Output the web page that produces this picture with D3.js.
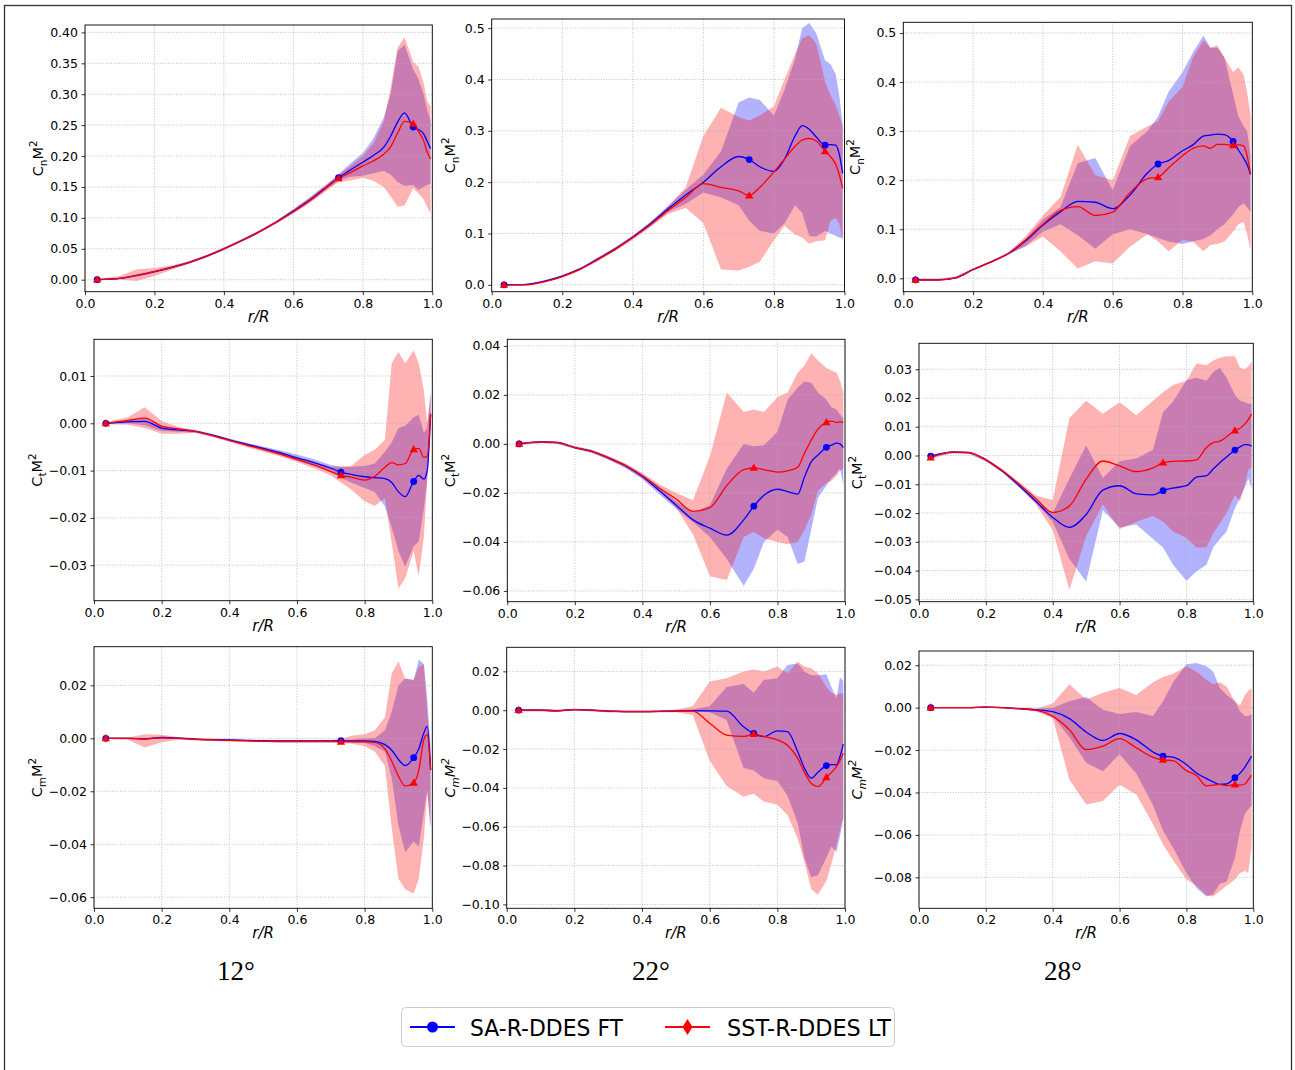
<!DOCTYPE html>
<html>
<head>
<meta charset="utf-8">
<script src="https://cdn.jsdelivr.net/npm/d3@7"></script>
<style>
  body { margin: 0; background: #fff; }
  text { font-family: "DejaVu Sans", sans-serif; }
</style>
</head>
<body>
<div id="chart"></div>
<script>

// radial stations r/R shared by every panel
const rR = [0.035, 0.1, 0.15, 0.2, 0.25, 0.3, 0.35, 0.4, 0.45, 0.5, 0.55, 0.6, 0.65, 0.7, 0.73, 0.76, 0.8, 0.83, 0.86, 0.88, 0.9, 0.92, 0.945, 0.96, 0.975, 0.985, 0.995];
const markerIdx = [0, 14, 22];

const angles = ["12°", "22°", "28°"];
const seriesNames = ["SA-R-DDES FT", "SST-R-DDES LT"];
const xTicks = [0, 0.2, 0.4, 0.6, 0.8, 1.0];

// ---- Cn M^2, 12 deg
const cn12_saMean  = [0, 0.002, 0.007, 0.013, 0.02, 0.028, 0.038, 0.05, 0.063, 0.077, 0.093, 0.111, 0.13, 0.152, 0.165, 0.176, 0.19, 0.201, 0.214, 0.232, 0.255, 0.27, 0.247, 0.243, 0.236, 0.224, 0.212];
const cn12_saLo    = [-0.001, 0.001, 0.005, 0.011, 0.018, 0.026, 0.036, 0.048, 0.061, 0.075, 0.091, 0.108, 0.127, 0.148, 0.16, 0.166, 0.168, 0.172, 0.176, 0.17, 0.158, 0.152, 0.153, 0.145, 0.15, 0.153, 0.155];
const cn12_saHi    = [0.001, 0.003, 0.009, 0.015, 0.022, 0.03, 0.04, 0.052, 0.065, 0.079, 0.095, 0.114, 0.134, 0.156, 0.17, 0.186, 0.205, 0.228, 0.262, 0.3, 0.37, 0.38, 0.34, 0.325, 0.3, 0.275, 0.258];
const cn12_sstMean = [0, 0.002, 0.007, 0.013, 0.02, 0.028, 0.038, 0.05, 0.063, 0.077, 0.093, 0.11, 0.129, 0.151, 0.164, 0.172, 0.184, 0.192, 0.203, 0.215, 0.237, 0.256, 0.252, 0.24, 0.225, 0.207, 0.195];
const cn12_sstLo   = [-0.001, 0.0, -0.002, 0.006, 0.016, 0.026, 0.036, 0.048, 0.061, 0.075, 0.09, 0.107, 0.125, 0.146, 0.158, 0.16, 0.165, 0.16, 0.15, 0.135, 0.118, 0.12, 0.148, 0.14, 0.13, 0.118, 0.107];
const cn12_sstHi   = [0.001, 0.006, 0.017, 0.019, 0.023, 0.03, 0.04, 0.052, 0.065, 0.079, 0.095, 0.114, 0.134, 0.156, 0.17, 0.182, 0.2, 0.22, 0.255, 0.31, 0.375, 0.392, 0.352, 0.345, 0.318, 0.29, 0.28];

// ---- Cn M^2, 22 deg
const cn22_saMean  = [0, 0.001, 0.007, 0.017, 0.031, 0.05, 0.07, 0.093, 0.119, 0.148, 0.175, 0.2, 0.23, 0.25, 0.244, 0.23, 0.221, 0.245, 0.29, 0.31, 0.303, 0.288, 0.272, 0.273, 0.272, 0.255, 0.217];
const cn22_saLo    = [-0.001, 0.0, 0.005, 0.015, 0.029, 0.047, 0.067, 0.09, 0.115, 0.142, 0.158, 0.18, 0.17, 0.155, 0.125, 0.105, 0.1, 0.12, 0.155, 0.14, 0.095, 0.094, 0.105, 0.1, 0.095, 0.092, 0.09];
const cn22_saHi    = [0.001, 0.002, 0.009, 0.019, 0.033, 0.053, 0.073, 0.096, 0.123, 0.154, 0.185, 0.215, 0.26, 0.355, 0.365, 0.36, 0.33, 0.38, 0.44, 0.5, 0.51, 0.49, 0.437, 0.43, 0.41, 0.37, 0.31];
const cn22_sstMean = [0, 0.0, 0.006, 0.016, 0.03, 0.049, 0.069, 0.092, 0.117, 0.145, 0.17, 0.197, 0.19, 0.183, 0.174, 0.19, 0.22, 0.245, 0.27, 0.282, 0.285, 0.28, 0.26, 0.25, 0.235, 0.215, 0.188];
const cn22_sstLo   = [-0.001, -0.001, 0.004, 0.014, 0.028, 0.046, 0.066, 0.088, 0.112, 0.138, 0.15, 0.12, 0.03, 0.028, 0.035, 0.045, 0.087, 0.115, 0.098, 0.092, 0.08, 0.085, 0.087, 0.125, 0.13, 0.12, 0.085];
const cn22_sstHi   = [0.001, 0.001, 0.008, 0.018, 0.032, 0.052, 0.072, 0.095, 0.121, 0.152, 0.19, 0.29, 0.345, 0.327, 0.32, 0.33, 0.348, 0.4, 0.45, 0.48, 0.486, 0.47, 0.396, 0.37, 0.35, 0.33, 0.31];

// ---- Cn M^2, 28 deg
const cn28_saMean  = [-0.003, -0.003, 0.001, 0.018, 0.033, 0.05, 0.076, 0.108, 0.135, 0.157, 0.155, 0.142, 0.17, 0.215, 0.233, 0.24, 0.26, 0.272, 0.29, 0.292, 0.294, 0.293, 0.279, 0.262, 0.245, 0.232, 0.212];
const cn28_saLo    = [-0.005, -0.005, -0.001, 0.016, 0.031, 0.048, 0.066, 0.095, 0.11, 0.088, 0.06, 0.09, 0.1, 0.09, 0.082, 0.075, 0.07, 0.075, 0.08, 0.088, 0.1, 0.11, 0.13, 0.145, 0.153, 0.145, 0.135];
const cn28_saHi    = [-0.001, -0.001, 0.003, 0.02, 0.035, 0.052, 0.08, 0.12, 0.145, 0.235, 0.245, 0.18, 0.27, 0.3, 0.33, 0.38, 0.42, 0.46, 0.495, 0.47, 0.47, 0.45, 0.375, 0.33, 0.31, 0.3, 0.25];
const cn28_sstMean = [-0.003, -0.003, 0.001, 0.018, 0.033, 0.05, 0.078, 0.11, 0.138, 0.146, 0.128, 0.135, 0.175, 0.203, 0.206, 0.225, 0.25, 0.265, 0.27, 0.265, 0.273, 0.273, 0.271, 0.272, 0.27, 0.25, 0.212];
const cn28_sstLo   = [-0.005, -0.005, -0.001, 0.016, 0.031, 0.048, 0.065, 0.085, 0.055, 0.02, 0.035, 0.03, 0.065, 0.09, 0.075, 0.055, 0.078, 0.075, 0.055, 0.068, 0.07, 0.075, 0.095, 0.11, 0.115, 0.09, 0.058];
const cn28_sstHi   = [-0.001, -0.001, 0.003, 0.02, 0.035, 0.052, 0.085, 0.128, 0.165, 0.272, 0.21, 0.2, 0.29, 0.31, 0.32, 0.36, 0.39, 0.45, 0.485, 0.47, 0.475, 0.45, 0.42, 0.43, 0.415, 0.38, 0.33];

// ---- Ct M^2, 12 deg
const ct12_saMean  = [0, 0.0003, 0.0004, -0.001, -0.0014, -0.0017, -0.0025, -0.0035, -0.0044, -0.0053, -0.0062, -0.0073, -0.0083, -0.0095, -0.0103, -0.0108, -0.0113, -0.0115, -0.0117, -0.0125, -0.0145, -0.0155, -0.0123, -0.011, -0.0118, -0.01, 0.002];
const ct12_saLo    = [-0.0002, 0.0, -0.0004, -0.0016, -0.0018, -0.002, -0.0028, -0.0038, -0.0047, -0.0057, -0.0067, -0.0079, -0.009, -0.0103, -0.0115, -0.0125, -0.0137, -0.0145, -0.0176, -0.022, -0.027, -0.0303, -0.026, -0.025, -0.018, -0.012, 0.001];
const ct12_saHi    = [0.0002, 0.0006, 0.001, -0.0005, -0.001, -0.0014, -0.0022, -0.0032, -0.0041, -0.0049, -0.0057, -0.0066, -0.0076, -0.0088, -0.0092, -0.0092, -0.009, -0.0085, -0.006, -0.004, -0.001, -0.0005, 0.0013, 0.0018, -0.002, -0.001, 0.0065];
const ct12_sstMean = [0, 0.0006, 0.0011, -0.0006, -0.0012, -0.0017, -0.0026, -0.0036, -0.0046, -0.0055, -0.0065, -0.0076, -0.0088, -0.0102, -0.011, -0.0114, -0.012, -0.0112, -0.0093, -0.0083, -0.0088, -0.0085, -0.0055, -0.0053, -0.0072, -0.007, 0.002];
const ct12_sstLo   = [-0.0002, -0.0003, -0.001, -0.0022, -0.0022, -0.002, -0.0029, -0.0039, -0.005, -0.006, -0.007, -0.0082, -0.0095, -0.011, -0.0125, -0.014, -0.0165, -0.0175, -0.0158, -0.0253, -0.0349, -0.0327, -0.027, -0.0324, -0.024, -0.012, 0.001];
const ct12_sstHi   = [0.0002, 0.0013, 0.0034, 0.0005, -0.0008, -0.0015, -0.0024, -0.0034, -0.0043, -0.0051, -0.006, -0.007, -0.0081, -0.0092, -0.0092, -0.009, -0.0067, -0.0056, -0.0035, 0.0127, 0.0151, 0.0127, 0.0154, 0.0127, 0.007, 0.0, 0.0063];

// ---- Ct M^2, 22 deg
const ct22_saMean  = [0, 0.0008, 0.0005, -0.0015, -0.003, -0.0058, -0.009, -0.0133, -0.019, -0.025, -0.031, -0.0344, -0.0372, -0.031, -0.0254, -0.021, -0.0185, -0.0195, -0.0205, -0.0135, -0.0073, -0.0045, -0.0014, -0.0005, 0.0003, 0.0, -0.0015];
const ct22_saLo    = [-0.0004, 0.0004, 0.0, -0.002, -0.0036, -0.0065, -0.0098, -0.0143, -0.0205, -0.0265, -0.032, -0.038, -0.047, -0.058, -0.051, -0.04, -0.035, -0.038, -0.049, -0.048, -0.035, -0.022, -0.017, -0.014, -0.012, -0.01, -0.017];
const ct22_saHi    = [0.0004, 0.0012, 0.001, -0.001, -0.0024, -0.005, -0.0082, -0.0123, -0.0175, -0.0235, -0.028, -0.025, -0.01, 0.0, -0.001, -0.0005, 0.005, 0.018, 0.023, 0.0255, 0.025, 0.021, 0.018, 0.015, 0.014, 0.012, 0.0105];
const ct22_sstMean = [0, 0.0008, 0.0005, -0.0015, -0.003, -0.0057, -0.0088, -0.013, -0.018, -0.0225, -0.0275, -0.026, -0.017, -0.0105, -0.0098, -0.0105, -0.0115, -0.011, -0.0095, -0.0038, 0.0015, 0.006, 0.0088, 0.0093, 0.0088, 0.009, 0.0088];
const ct22_sstLo   = [-0.0004, 0.0004, 0.0, -0.002, -0.0036, -0.0064, -0.0096, -0.014, -0.0195, -0.026, -0.037, -0.054, -0.0555, -0.038, -0.036, -0.0385, -0.04, -0.041, -0.04, -0.035, -0.029, -0.019, -0.016, -0.015, -0.013, -0.011, -0.01];
const ct22_sstHi   = [0.0004, 0.0012, 0.001, -0.001, -0.0024, -0.005, -0.008, -0.012, -0.0165, -0.02, -0.023, -0.005, 0.021, 0.013, 0.014, 0.013, 0.019, 0.021, 0.029, 0.032, 0.037, 0.034, 0.031, 0.03, 0.029, 0.026, 0.021];

// ---- Ct M^2, 28 deg
const ct28_saMean  = [-0.0002, 0.0012, 0.001, -0.0015, -0.0055, -0.0105, -0.016, -0.0215, -0.025, -0.0205, -0.012, -0.0105, -0.0133, -0.0137, -0.0122, -0.0113, -0.0105, -0.0075, -0.007, -0.0047, -0.0025, -0.0005, 0.0019, 0.003, 0.0038, 0.0038, 0.0032];
const ct28_saLo    = [-0.0006, 0.0008, 0.0006, -0.002, -0.006, -0.0112, -0.0165, -0.023, -0.036, -0.0438, -0.019, -0.025, -0.024, -0.029, -0.032, -0.038, -0.0435, -0.0403, -0.038, -0.032, -0.029, -0.0264, -0.0183, -0.0148, -0.011, -0.008, -0.0114];
const ct28_saHi    = [0.0002, 0.0016, 0.0014, -0.001, -0.005, -0.0098, -0.0155, -0.02, -0.008, 0.0035, -0.0078, -0.002, -0.001, 0.002, 0.015, 0.0188, 0.0262, 0.027, 0.026, 0.029, 0.0305, 0.027, 0.021, 0.019, 0.0185, 0.018, 0.018];
const ct28_sstMean = [-0.0007, 0.0012, 0.001, -0.0015, -0.0053, -0.01, -0.015, -0.0198, -0.0175, -0.0082, -0.0019, -0.0036, -0.0056, -0.0043, -0.0025, -0.002, -0.0019, -0.0015, 0.0028, 0.0045, 0.005, 0.0065, 0.0087, 0.0095, 0.011, 0.0125, 0.0144];
const ct28_sstLo   = [-0.0011, 0.0008, 0.0006, -0.002, -0.0058, -0.0107, -0.017, -0.026, -0.0467, -0.028, -0.017, -0.0255, -0.023, -0.021, -0.023, -0.0264, -0.0287, -0.032, -0.032, -0.027, -0.0235, -0.02, -0.0137, -0.016, -0.01, -0.005, -0.004];
const ct28_sstHi   = [-0.0003, 0.0016, 0.0014, -0.001, -0.0048, -0.0093, -0.014, -0.0155, 0.013, 0.019, 0.0145, 0.0185, 0.014, 0.019, 0.022, 0.0245, 0.026, 0.032, 0.0315, 0.033, 0.034, 0.0345, 0.0345, 0.0305, 0.03, 0.031, 0.0327];

// ---- Cm M^2, 12 deg
const cm12_saMean  = [0, 0, -0.0002, 0.0003, 0.0001, -0.0003, -0.0005, -0.0006, -0.0008, -0.0009, -0.001, -0.001, -0.001, -0.001, -0.0009, -0.001, -0.001, -0.0012, -0.0024, -0.0045, -0.008, -0.0103, -0.0073, -0.004, 0.002, 0.0045, -0.012];
const cm12_saLo    = [-0.0003, -0.0003, -0.0005, 0.0, -0.0002, -0.0006, -0.0008, -0.0009, -0.0011, -0.0012, -0.0013, -0.0013, -0.0013, -0.0014, -0.0013, -0.0015, -0.0017, -0.003, -0.005, -0.015, -0.033, -0.043, -0.039, -0.041, -0.028, -0.02, -0.034];
const cm12_saHi    = [0.0003, 0.0003, 0.0001, 0.0006, 0.0004, 0.0, -0.0002, -0.0003, -0.0005, -0.0006, -0.0007, -0.0007, -0.0007, -0.0007, -0.0005, -0.0005, 0.0, 0.0, 0.003, 0.01, 0.02, 0.0226, 0.022, 0.0298, 0.028, 0.015, -0.003];
const cm12_sstMean = [0, 0, -0.0003, 0.0002, 0.0, -0.0004, -0.0006, -0.0008, -0.001, -0.0011, -0.0012, -0.0012, -0.0012, -0.0012, -0.0013, -0.0013, -0.0013, -0.0015, -0.004, -0.0086, -0.0143, -0.018, -0.0168, -0.012, -0.0005, 0.0014, -0.012];
const cm12_sstLo   = [-0.0003, -0.0005, -0.0035, -0.0015, -0.0005, -0.0008, -0.001, -0.0012, -0.0014, -0.0015, -0.0016, -0.0016, -0.0016, -0.0016, -0.0018, -0.002, -0.003, -0.005, -0.0105, -0.034, -0.053, -0.057, -0.0586, -0.053, -0.038, -0.02, -0.034];
const cm12_sstHi   = [0.0003, 0.0003, 0.0015, 0.0013, 0.0005, 0.0, -0.0002, -0.0004, -0.0006, -0.0007, -0.0008, -0.0008, -0.0008, -0.0006, -0.0004, 0.001, 0.0015, 0.003, 0.008, 0.0245, 0.029, 0.0226, 0.022, 0.027, 0.028, 0.01, -0.005];

// ---- Cm M^2, 22 deg
const cm22_saMean  = [0, 0, -0.0003, 0.0003, 0.0, -0.0005, -0.0007, -0.0007, -0.0006, -0.0004, -0.0002, -0.0003, -0.0005, -0.0085, -0.012, -0.0136, -0.0106, -0.011, -0.0213, -0.0298, -0.035, -0.032, -0.0285, -0.028, -0.0281, -0.024, -0.0175];
const cm22_saLo    = [-0.0005, -0.0005, -0.0008, -0.0002, -0.0005, -0.001, -0.0012, -0.0012, -0.0011, -0.0009, -0.0008, -0.001, -0.005, -0.0298, -0.031, -0.035, -0.0365, -0.044, -0.058, -0.076, -0.086, -0.085, -0.076, -0.07, -0.073, -0.065, -0.055];
const cm22_saHi    = [0.0005, 0.0005, 0.0002, 0.0008, 0.0005, 0.0, -0.0002, -0.0002, -0.0001, 0.0001, 0.0005, 0.002, 0.012, 0.0135, 0.009, 0.0156, 0.0165, 0.0233, 0.024, 0.02, 0.018, 0.018, 0.0185, 0.012, 0.006, 0.017, 0.015];
const cm22_sstMean = [0, 0, -0.0003, 0.0003, 0.0, -0.0005, -0.0007, -0.0007, -0.0006, -0.0004, -0.0005, -0.0067, -0.0128, -0.0135, -0.0123, -0.0135, -0.0153, -0.018, -0.0247, -0.032, -0.0376, -0.0393, -0.0346, -0.032, -0.029, -0.026, -0.0221];
const cm22_sstLo   = [-0.0005, -0.0005, -0.0008, -0.0002, -0.0005, -0.001, -0.0012, -0.0012, -0.0011, -0.001, -0.0024, -0.026, -0.039, -0.0445, -0.043, -0.047, -0.0487, -0.054, -0.066, -0.078, -0.092, -0.095, -0.088, -0.079, -0.069, -0.062, -0.056];
const cm22_sstHi   = [0.0005, 0.0005, 0.0002, 0.0008, 0.0005, 0.0, -0.0002, -0.0002, -0.0001, 0.0003, 0.002, 0.0148, 0.0165, 0.02, 0.021, 0.02, 0.0225, 0.019, 0.025, 0.0225, 0.0216, 0.019, 0.012, 0.009, 0.008, 0.0085, 0.0087];

// ---- Cm M^2, 28 deg
const cm28_saMean  = [0, 0, 0, 0.0002, 0.0, -0.0005, -0.001, -0.0019, -0.0052, -0.0115, -0.0155, -0.0122, -0.0152, -0.0209, -0.0229, -0.0233, -0.0268, -0.0308, -0.0335, -0.035, -0.0362, -0.036, -0.033, -0.031, -0.028, -0.0255, -0.0229];
const cm28_saLo    = [-0.0003, -0.0003, -0.0003, -0.0001, -0.0003, -0.0009, -0.0015, -0.004, -0.014, -0.026, -0.03, -0.022, -0.031, -0.046, -0.058, -0.066, -0.078, -0.085, -0.089, -0.088, -0.083, -0.082, -0.071, -0.058, -0.05, -0.048, -0.046];
const cm28_saHi    = [0.0003, 0.0003, 0.0003, 0.0005, 0.0003, -0.0001, -0.0005, 0.0, 0.003, 0.005, -0.001, -0.003, -0.002, -0.004, 0.003, 0.012, 0.0205, 0.021, 0.0195, 0.017, 0.0093, 0.006, 0.003, -0.0017, -0.004, -0.004, -0.003];
const cm28_sstMean = [0, 0, 0, 0.0002, 0.0, -0.0005, -0.0012, -0.0041, -0.0104, -0.0198, -0.0182, -0.0146, -0.019, -0.0234, -0.0246, -0.025, -0.0297, -0.032, -0.0369, -0.0365, -0.0362, -0.0368, -0.0363, -0.0365, -0.036, -0.034, -0.0319];
const cm28_sstLo   = [-0.0003, -0.0003, -0.0003, -0.0001, -0.0003, -0.0009, -0.0018, -0.005, -0.034, -0.0457, -0.044, -0.0363, -0.041, -0.055, -0.0645, -0.072, -0.081, -0.084, -0.0885, -0.089, -0.0865, -0.084, -0.081, -0.078, -0.077, -0.078, -0.065];
const cm28_sstHi   = [0.0003, 0.0003, 0.0003, 0.0005, 0.0003, -0.0001, -0.0005, 0.002, 0.011, 0.0038, 0.007, 0.0093, 0.006, 0.012, 0.0145, 0.016, 0.0195, 0.017, 0.013, 0.011, 0.012, 0.01, 0.003, 0.001, 0.006, 0.008, 0.009];

// y tick values per panel
const cnTicks12 = [0, 0.05, 0.10, 0.15, 0.20, 0.25, 0.30, 0.35, 0.40];
const cnTicks22 = [0, 0.1, 0.2, 0.3, 0.4, 0.5];
const ctTicks12 = [-0.03, -0.02, -0.01, 0, 0.01];
const ctTicks22 = [-0.06, -0.04, -0.02, 0, 0.02, 0.04];
const ctTicks28 = [-0.05, -0.04, -0.03, -0.02, -0.01, 0, 0.01, 0.02, 0.03];
const cmTicks12 = [-0.06, -0.04, -0.02, 0, 0.02];
const cmTicks22 = [-0.10, -0.08, -0.06, -0.04, -0.02, 0, 0.02];
const cmTicks28 = [-0.08, -0.06, -0.04, -0.02, 0, 0.02];

// panel boxes (pixels) and y ranges
const panels = [
  {l: 85,    r: 432.3,  t: 25,    b: 291.7, dom: [-0.0194, 0.412], ticks: cnTicks12, fmt: ".2f", labX: 43,  sub: "n", it: false,
   sa: [cn12_saMean, cn12_saLo, cn12_saHi], sst: [cn12_sstMean, cn12_sstLo, cn12_sstHi]},
  {l: 491.7, r: 844.5,  t: 19,    b: 291.7, dom: [-0.0134, 0.5178], ticks: cnTicks22, fmt: ".1f", labX: 455, sub: "n", it: false,
   sa: [cn22_saMean, cn22_saLo, cn22_saHi], sst: [cn22_sstMean, cn22_sstLo, cn22_sstHi]},
  {l: 903.3, r: 1252.3, t: 22.3,  b: 291.7, dom: [-0.0273, 0.5218], ticks: cnTicks22, fmt: ".1f", labX: 860, sub: "n", it: false,
   sa: [cn28_saMean, cn28_saLo, cn28_saHi], sst: [cn28_sstMean, cn28_sstLo, cn28_sstHi]},
  {l: 94,    r: 432.3,  t: 339.3, b: 600.7, dom: [-0.0375, 0.01776], ticks: ctTicks12, fmt: ".2f", labX: 42, sub: "t", it: false,
   sa: [ct12_saMean, ct12_saLo, ct12_saHi], sst: [ct12_sstMean, ct12_sstLo, ct12_sstHi]},
  {l: 507.3, r: 845,    t: 339.3, b: 601.7, dom: [-0.0644, 0.0427], ticks: ctTicks22, fmt: ".2f", labX: 455, sub: "t", it: false,
   sa: [ct22_saMean, ct22_saLo, ct22_saHi], sst: [ct22_sstMean, ct22_sstLo, ct22_sstHi]},
  {l: 919,   r: 1253.3, t: 343.3, b: 601.7, dom: [-0.0508, 0.039], ticks: ctTicks28, fmt: ".2f", labX: 862, sub: "t", it: false,
   sa: [ct28_saMean, ct28_saLo, ct28_saHi], sst: [ct28_sstMean, ct28_sstLo, ct28_sstHi]},
  {l: 94,    r: 432.3,  t: 646.7, b: 908.3, dom: [-0.0642, 0.0346], ticks: cmTicks12, fmt: ".2f", labX: 42, sub: "m", it: false,
   sa: [cm12_saMean, cm12_saLo, cm12_saHi], sst: [cm12_sstMean, cm12_sstLo, cm12_sstHi]},
  {l: 506.7, r: 845,    t: 647.3, b: 908.3, dom: [-0.102, 0.0324], ticks: cmTicks22, fmt: ".2f", labX: 455, sub: "m", it: true,
   sa: [cm22_saMean, cm22_saLo, cm22_saHi], sst: [cm22_sstMean, cm22_sstLo, cm22_sstHi]},
  {l: 919,   r: 1253.3, t: 651,   b: 908.3, dom: [-0.0946, 0.0267], ticks: cmTicks28, fmt: ".2f", labX: 862, sub: "m", it: true,
   sa: [cm28_saMean, cm28_saLo, cm28_saHi], sst: [cm28_sstMean, cm28_sstLo, cm28_sstHi]}
];

const BLUE = "#0000ff", RED = "#ff0000";

const svg = d3.select("#chart").append("svg")
    .attr("width", 1295)
    .attr("height", 1070);

// outer frame
svg.append("rect")
    .attr("x", 4.5).attr("y", 5.5)
    .attr("width", 1287).attr("height", 1080)
    .attr("fill", "none")
    .attr("stroke", "#333")
    .attr("stroke-width", 1.3);

panels.forEach(function(p) {
    let g = svg.append("g");
    let x = d3.scaleLinear().domain([0, 1]).range([p.l, p.r]);
    let y = d3.scaleLinear().domain(p.dom).range([p.b, p.t]);

    let band = function(lo, hi) {
        return d3.area()
            .x((d, i) => x(rR[i]))
            .y0((d, i) => y(lo[i]))
            .y1((d, i) => y(hi[i]))(rR);
    };
    let line = d3.line()
        .x((d, i) => x(rR[i]))
        .y(d => y(d))
        .curve(d3.curveMonotoneX);

    // shaded envelopes
    g.append("path").attr("d", band(p.sa[1], p.sa[2]))
        .attr("fill", BLUE).attr("fill-opacity", 0.3);
    g.append("path").attr("d", band(p.sst[1], p.sst[2]))
        .attr("fill", RED).attr("fill-opacity", 0.3);

    // dotted grid
    let grid = g.append("g").attr("stroke", "#b0b0b0").attr("stroke-width", 0.8)
        .attr("stroke-dasharray", "1,1.6");
    grid.selectAll(".gx").data(xTicks).enter().append("line")
        .attr("x1", d => x(d)).attr("x2", d => x(d))
        .attr("y1", p.t).attr("y2", p.b);
    grid.selectAll(".gy").data(p.ticks).enter().append("line")
        .attr("y1", d => y(d)).attr("y2", d => y(d))
        .attr("x1", p.l).attr("x2", p.r);

    // mean lines
    g.append("path").attr("d", line(p.sa[0]))
        .attr("fill", "none").attr("stroke", BLUE).attr("stroke-width", 1.3);
    g.append("path").attr("d", line(p.sst[0]))
        .attr("fill", "none").attr("stroke", RED).attr("stroke-width", 1.3);

    g.selectAll(".mb").data(markerIdx).enter().append("circle")
        .attr("cx", i => x(rR[i])).attr("cy", i => y(p.sa[0][i]))
        .attr("r", 3.4).attr("fill", BLUE);
    g.selectAll(".mr").data(markerIdx).enter().append("path")
        .attr("d", d3.symbol(d3.symbolTriangle).size(30))
        .attr("transform", i => "translate(" + x(rR[i]) + "," + (y(p.sst[0][i]) + 0.5) + ")")
        .attr("fill", RED);

    // frame
    g.append("rect")
        .attr("x", p.l).attr("y", p.t)
        .attr("width", p.r - p.l).attr("height", p.b - p.t)
        .attr("fill", "none").attr("stroke", "#000").attr("stroke-width", 0.9);

    // axes
    let xAxis = d3.axisBottom(x).tickValues(xTicks).tickFormat(d3.format(".1f"))
        .tickSize(3.5).tickPadding(3.5);
    let yAxis = d3.axisLeft(y).tickValues(p.ticks).tickFormat(d3.format(p.fmt))
        .tickSize(3.5).tickPadding(3.5);

    let xg = g.append("g").attr("transform", "translate(0," + p.b + ")").call(xAxis);
    let yg = g.append("g").attr("transform", "translate(" + p.l + ",0)").call(yAxis);
    [xg, yg].forEach(function(a) {
        a.select(".domain").remove();
        a.selectAll("line").attr("stroke", "#000").attr("stroke-width", 0.8);
        a.selectAll("text").attr("fill", "#000")
            .style("font-size", "12.5px")
            .style("font-family", "'DejaVu Sans', sans-serif");
    });

    // axis labels
    g.append("text")
        .attr("x", (p.l + p.r) / 2).attr("y", p.b + 30)
        .attr("text-anchor", "middle")
        .style("font-size", "15px").style("font-style", "italic")
        .text("r/R");

    let lab = g.append("text")
        .attr("transform", "translate(" + p.labX + "," + ((p.t + p.b) / 2) + ") rotate(-90)")
        .attr("text-anchor", "middle")
        .style("font-size", "14.5px")
        .style("font-style", p.it ? "italic" : "normal");
    lab.append("tspan").text("C");
    lab.append("tspan").attr("dy", 3.5).style("font-size", "10.5px").text(p.sub);
    lab.append("tspan").attr("dy", -3.5).text("M");
    lab.append("tspan").attr("dy", -6).style("font-size", "10.5px").text("2");
});

// column titles
const titleX = [236, 651, 1063];
svg.selectAll(".ttl").data(angles).enter().append("text")
    .attr("x", (d, i) => titleX[i]).attr("y", 980)
    .attr("text-anchor", "middle")
    .style("font-family", "'Liberation Serif', 'Times New Roman', serif")
    .style("font-size", "27px")
    .text(d => d);

// legend
let leg = svg.append("g");
leg.append("rect")
    .attr("x", 401.5).attr("y", 1007.5)
    .attr("width", 493).attr("height", 39).attr("rx", 4)
    .attr("fill", "#fff").attr("stroke", "#cccccc").attr("stroke-width", 1);

const legX = [410, 665];
const legTextX = [470, 727];
const legTextW = [153, 164];
const legColor = [BLUE, RED];
seriesNames.forEach(function(name, i) {
    leg.append("line")
        .attr("x1", legX[i]).attr("x2", legX[i] + 45)
        .attr("y1", 1027).attr("y2", 1027)
        .attr("stroke", legColor[i]).attr("stroke-width", 2.2);
    if (i === 0) {
        leg.append("circle").attr("cx", legX[i] + 22.5).attr("cy", 1027).attr("r", 5.5).attr("fill", BLUE);
    } else {
        leg.append("path")
            .attr("d", "M0,-8L5,0L0,8L-5,0Z")
            .attr("transform", "translate(" + (legX[i] + 22.5) + ",1027)")
            .attr("fill", RED);
    }
    leg.append("text")
        .attr("x", legTextX[i]).attr("y", 1035.5)
        .attr("textLength", legTextW[i]).attr("lengthAdjust", "spacingAndGlyphs")
        .style("font-size", "23px")
        .text(name);
});

</script>
</body>
</html>
